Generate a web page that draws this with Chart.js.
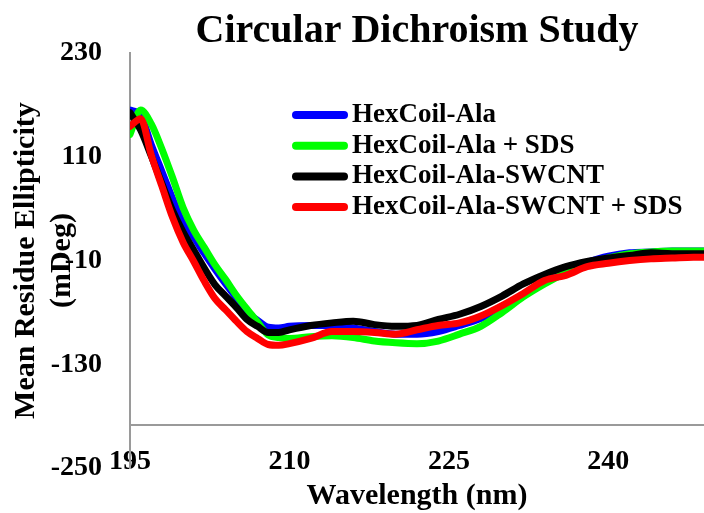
<!DOCTYPE html>
<html>
<head>
<meta charset="utf-8">
<script src="https://cdn.jsdelivr.net/npm/chart.js@4.4.0/dist/chart.umd.min.js"></script>
<style>
  html, body { margin: 0; padding: 0; background: #fff; }
  #wrap { width: 704px; height: 513px; }
</style>
</head>
<body>
<div id="wrap"><canvas id="cdChart" width="704" height="513"></canvas></div>
<script>
// Circular dichroism spectra
var wavelengths = [195, 196, 197, 198, 199, 200, 201, 202, 203, 204, 205, 206, 207, 208, 209, 210,
    212, 214, 216, 218, 220, 222, 224, 226, 228, 230, 232, 234, 236, 238, 240, 242, 244, 246, 248, 249];

var hexCoilAla = [164, 158, 124, 93, 62, 33, 17, -2, -20, -37, -53, -70, -79, -87, -88, -86,
    -85, -85, -88, -92, -95, -95, -92, -85, -77, -66, -51, -35, -21, -12, -5, -1, 0, 1, 1, 1];
var hexCoilAlaSds = [136, 164, 148, 119, 86, 51, 25, 5, -15, -32, -50, -66, -81, -96, -99, -100,
    -98, -97, -99, -103, -105, -106, -103, -95, -86, -70, -52, -37, -24, -14, -7, -2, 0, 1, 1, 1];
var hexCoilAlaSwcnt = [161, 141, 111, 79, 48, 23, 2, -19, -38, -51, -64, -78, -86, -93, -93, -90,
    -85, -82, -80, -84, -86, -85, -78, -72, -63, -51, -37, -26, -17, -11, -7, -4, -1, -2, -2, -2];
var hexCoilAlaSwcntSds = [145, 154, 112, 76, 40, 11, -11, -34, -54, -67, -80, -92, -100, -107, -108, -106,
    -100, -92, -92, -93, -95, -90, -85, -82, -74, -62, -48, -33, -27, -17, -13, -10, -8, -7, -6, -6];

var seriesNames = ['HexCoil-Ala', 'HexCoil-Ala + SDS', 'HexCoil-Ala-SWCNT', 'HexCoil-Ala-SWCNT + SDS'];
var seriesColors = ['#0000ff', '#00ff00', '#000000', '#ff0000'];
var yTicks = [-250, -130, -10, 110, 230];
var xTicks = [195, 210, 225, 240];
var axisCross = -200;   // the x axis crosses the y axis here

var serif = "'Liberation Serif', 'Times New Roman', serif";
Chart.defaults.font.family = serif;
Chart.defaults.font.weight = 'bold';
Chart.defaults.color = '#000';

function toPoints(vals) {
    return vals.map(function (v, i) { return { x: wavelengths[i], y: v }; });
}

// legend sitting inside the plot
var insideLegend = {
    id: 'insideLegend',
    afterDraw: function (chart) {
        var ctx = chart.ctx;
        ctx.save();
        ctx.font = 'bold 27px ' + serif;
        ctx.textBaseline = 'middle';
        ctx.lineCap = 'round';
        ctx.lineWidth = 8;
        chart.data.datasets.forEach(function (ds, i) {
            var y = 115 + i * 30.7;
            ctx.strokeStyle = ds.borderColor;
            ctx.beginPath();
            ctx.moveTo(296, y);
            ctx.lineTo(344, y);
            ctx.stroke();
            ctx.fillStyle = '#000';
            ctx.fillText(ds.label, 352, y);
        });
        ctx.restore();
    }
};

var datasets = [hexCoilAla, hexCoilAlaSds, hexCoilAlaSwcnt, hexCoilAlaSwcntSds].map(function (vals, i) {
    return {
        label: seriesNames[i],
        data: toPoints(vals),
        borderColor: seriesColors[i],
        backgroundColor: seriesColors[i],
        borderWidth: 7,
        pointRadius: 0,
        cubicInterpolationMode: 'monotone',
        borderCapStyle: 'round',
        borderJoinStyle: 'round',
        fill: false,
        order: 3 - i
    };
});

var ctx = document.getElementById('cdChart').getContext('2d');
var cdChart = new Chart(ctx, {
    type: 'line',
    data: { datasets: datasets },
    options: {
        responsive: false,
        animation: false,
        devicePixelRatio: 1,
        layout: { padding: 0 },
        plugins: {
            legend: { display: false },
            tooltip: { enabled: false },
            title: {
                display: true,
                text: 'Circular Dichroism Study',
                fullSize: false,
                font: { size: 40, weight: 'bold', lineHeight: 1 },
                color: '#000',
                padding: { top: 12, bottom: 1 }
            },
            subtitle: {
                display: true,
                position: 'bottom',
                text: 'Wavelength (nm)',
                fullSize: false,
                font: { size: 30, weight: 'bold', lineHeight: 1 },
                color: '#000',
                padding: { top: 13, bottom: 0 }
            }
        },
        scales: {
            x: {
                type: 'linear',
                position: { y: axisCross },
                min: 195,
                max: 249,
                grid: { display: false, drawTicks: false },
                border: { display: true, color: '#9a9a9a', width: 2 },
                afterBuildTicks: function (scale) {
                    scale.ticks = xTicks.map(function (v) { return { value: v }; });
                },
                afterFit: function (scale) { scale.height = 0; },
                ticks: {
                    font: { size: 28, weight: 'bold' },
                    color: '#000',
                    padding: 20,
                    maxRotation: 0
                }
            },
            y: {
                type: 'linear',
                min: -250,
                max: 230,
                grid: { display: false, drawTicks: false },
                border: { display: true, color: '#9a9a9a', width: 2 },
                afterBuildTicks: function (scale) {
                    scale.ticks = yTicks.map(function (v) { return { value: v }; });
                },
                afterFit: function (scale) { scale.width = 130; },
                ticks: {
                    font: { size: 28, weight: 'bold' },
                    color: '#000',
                    padding: 28
                },
                title: {
                    display: true,
                    text: ['Mean Residue Ellipticity', '(mDeg)'],
                    font: { size: 30, weight: 'bold', lineHeight: 1.2 },
                    color: '#000',
                    padding: { top: 8, bottom: 0 }
                }
            }
        }
    },
    plugins: [insideLegend]
});
</script>
</body>
</html>
